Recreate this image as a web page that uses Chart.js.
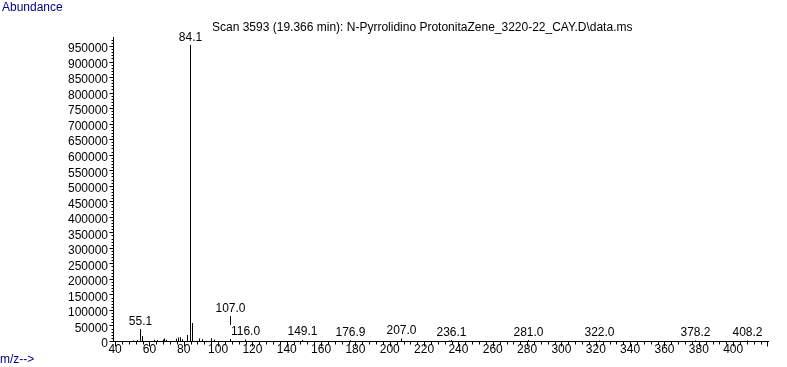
<!DOCTYPE html>
<html>
<head>
<meta charset="utf-8">
<script src="https://cdn.jsdelivr.net/npm/chart.js@4.4.1/dist/chart.umd.min.js"></script>
<style>
  html, body { margin: 0; padding: 0; background: #ffffff; }
  canvas { display: block; }
</style>
</head>
<body>
<canvas id="spectrum" width="787" height="367"></canvas>
<script>
// peaks (m/z, abundance)
const mz = [51, 53, 55.1, 56, 63, 65, 68, 69, 70, 76, 77, 78, 79, 82, 84.1, 85, 89, 91, 96, 98,
  107, 116, 149.1, 176.9, 207, 235, 236.1, 281, 322, 378.2, 408.2];
const abundance = [2000, 3000, 38500, 16000, 4000, 3000, 5000, 8000, 4000, 7000, 11000, 12000, 6000, 19000, 953000, 58000, 8000, 6000, 9000, 4000,
  80500, 4500, 3500, 2500, 8000, 1500, 3000, 3000, 1500, 1500, 2000];
// text printed above a peak (null = no label)
const peakLabels = [null, null, "55.1", null, null, null, null, null, null, null, null, null, null, null, "84.1", null, null, null, null, null,
  "107.0", "116.0", "149.1", "176.9", "207.0", null, "236.1", "281.0", "322.0", "378.2", "408.2"];

const xTicks = [40, 60, 80, 100, 120, 140, 160, 180, 200, 220, 240, 260, 280, 300, 320, 340, 360, 380, 400, 420];
const yTicks = [0, 50000, 100000, 150000, 200000, 250000, 300000, 350000, 400000, 450000, 500000,
  550000, 600000, 650000, 700000, 750000, 800000, 850000, 900000, 950000];

const titleText = "Scan 3593 (19.366 min): N-Pyrrolidino ProtonitaZene_3220-22_CAY.D\\data.ms";
const FONT = "12px 'Liberation Sans', Arial, sans-serif";
const NAVY = "#00008b";

Chart.defaults.font.family = "'Liberation Sans', Arial, sans-serif";
Chart.defaults.font.size = 12;
Chart.defaults.color = "#000000";

// keep the 1px sticks on whole pixels so they stay sharp
const crispBars = {
  id: "crispBars",
  beforeDatasetsDraw(chart) {
    chart.getDatasetMeta(0).data.forEach((el) => {
      el.x = Math.floor(el.x) + 0.5;
    });
  },
};

// small minor/major ticks like the instrument software draws them
const tickMarks = {
  id: "tickMarks",
  afterDraw(chart) {
    const ctx = chart.ctx;
    const xs = chart.scales.x;
    const ys = chart.scales.y;
    const axisY = Math.round(ys.getPixelForValue(0)) + 0.5;
    const axisX = Math.round(xs.left) + 0.5;
    ctx.save();
    ctx.strokeStyle = "#000000";
    ctx.lineWidth = 1;
    ctx.beginPath();
    for (let v = 40; v <= 420; v += 4) {
      const px = Math.round(xs.getPixelForValue(v)) + 0.5;
      const len = v % 20 === 0 ? 5 : 3;
      ctx.moveTo(px, axisY);
      ctx.lineTo(px, axisY + len);
    }
    for (let v = 0; v <= ys.max; v += 10000) {
      const py = Math.round(ys.getPixelForValue(v)) + 0.5;
      const len = v % 50000 === 0 ? 4 : 2;
      ctx.moveTo(axisX, py);
      ctx.lineTo(axisX - len, py);
    }
    ctx.stroke();
    ctx.restore();
  },
};

// peak labels, each on a white box that reaches down to its own peak top
const peakText = {
  id: "peakText",
  afterDatasetsDraw(chart) {
    const ctx = chart.ctx;
    const meta = chart.getDatasetMeta(0);
    ctx.save();
    ctx.font = FONT;
    ctx.textAlign = "center";
    ctx.textBaseline = "middle";
    peakLabels.forEach((txt, i) => {
      if (!txt) return;
      const el = meta.data[i];
      const top = Math.floor(el.y);
      const cy = top - 7;
      const w = ctx.measureText(txt).width;
      ctx.fillStyle = "#ffffff";
      ctx.fillRect(el.x - w / 2 - 2, cy - 7, w + 4, top - (cy - 7));
      ctx.fillStyle = "#000000";
      ctx.fillText(txt, el.x, cy);
    });
    ctx.restore();
  },
};

// title, axis captions
const captions = {
  id: "captions",
  afterDraw(chart) {
    const ctx = chart.ctx;
    ctx.save();
    ctx.font = FONT;
    ctx.textBaseline = "middle";
    ctx.textAlign = "left";
    ctx.fillStyle = NAVY;
    ctx.fillText("Abundance", 2, 8);
    ctx.fillText("m/z-->", 0, 360);
    ctx.fillStyle = "#000000";
    ctx.fillText(titleText, 212, 28);
    ctx.restore();
  },
};

const ctx = document.getElementById("spectrum");
const chart = new Chart(ctx, {
  type: "bar",
  data: {
    datasets: [
      {
        data: mz.map((m, i) => ({ x: m, y: abundance[i] })),
        backgroundColor: "#000000",
        borderWidth: 0,
        barThickness: 1,
        inflateAmount: 0,
      },
    ],
  },
  options: {
    responsive: false,
    animation: false,
    devicePixelRatio: 1,
    layout: { padding: { top: 37, right: 19, left: 0, bottom: 0 } },
    plugins: {
      legend: { display: false },
      tooltip: { enabled: false },
    },
    scales: {
      x: {
        type: "linear",
        offset: false,
        min: 38.8,
        max: 420.3,
        grid: { display: false, drawTicks: false, offset: false },
        border: { display: true, color: "#000000", width: 1 },
        ticks: {
          color: "#000000",
          padding: 1,
          maxRotation: 0,
          autoSkip: false,
          callback: (v) => (v === 420 ? "" : String(v)),
        },
        afterBuildTicks: (s) => {
          s.ticks = xTicks.map((v) => ({ value: v }));
        },
        afterFit: (s) => {
          s.height = 26;
        },
      },
      y: {
        min: 0,
        max: 979000,
        grid: { display: false, drawTicks: false },
        border: { display: true, color: "#000000", width: 1 },
        ticks: {
          color: "#000000",
          padding: 5,
          labelOffset: 3,
          autoSkip: false,
          callback: (v) => String(v),
        },
        afterBuildTicks: (s) => {
          s.ticks = yTicks.map((v) => ({ value: v }));
        },
        afterFit: (s) => {
          s.width = 113;
        },
      },
    },
  },
  plugins: [crispBars, tickMarks, peakText, captions],
});
</script>
</body>
</html>
